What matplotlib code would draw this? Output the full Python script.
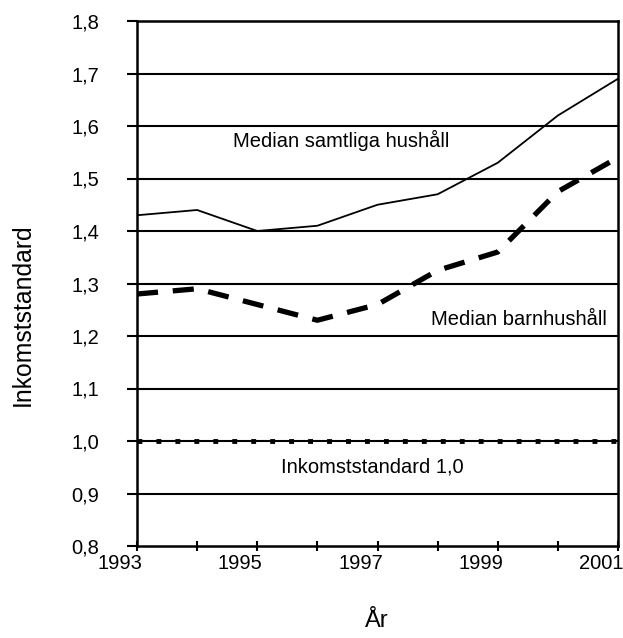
import matplotlib
matplotlib.use("Agg")
import matplotlib.pyplot as plt
import matplotlib.transforms as mtransforms

# --- Data ---
years = [1993, 1994, 1995, 1996, 1997, 1998, 1999, 2000, 2001]
median_samtliga = [1.43, 1.44, 1.40, 1.41, 1.45, 1.47, 1.53, 1.62, 1.69]
median_barn = [1.28, 1.29, 1.26, 1.23, 1.26, 1.325, 1.36, 1.475, 1.54]
standard = [1.0] * len(years)

yticks = [0.8, 0.9, 1.0, 1.1, 1.2, 1.3, 1.4, 1.5, 1.6, 1.7, 1.8]
ytick_labels = [f"{v:.1f}".replace(".", ",") for v in yticks]
xtick_labels = ["1993", "1995", "1997", "1999", "2001"]

plt.rcParams["font.family"] = ["Liberation Sans", "DejaVu Sans"]
fs = 14.5

fig = plt.figure(figsize=(6.23, 6.38), dpi=100)
ax = fig.add_axes([137 / 623, 1 - 546 / 638, 481 / 623, 525 / 638])

# gridlines
for v in yticks[1:-1]:
    ax.axhline(v, color="black", lw=1.5, zorder=1)

ax.plot(years, median_samtliga, color="black", lw=1.3, zorder=3)
ax.plot(years, median_barn, color="black", lw=3.8, dashes=(4, 2.8), zorder=3)
ax.plot(years, standard, color="black", lw=3.5, dashes=(1, 2.9), zorder=3)

ax.set_xlim(1993, 2001)
ax.set_ylim(0.8, 1.8)
ax.set_yticks(yticks)
ax.set_yticklabels(ytick_labels, fontsize=fs)
ax.set_xticks(years)
ax.set_xticklabels([str(y) if str(y) in xtick_labels else "" for y in years], fontsize=fs)
ax.tick_params(axis="y", direction="out", length=7, width=1.5, pad=20)
ax.tick_params(axis="x", direction="inout", length=7, width=1.5, pad=2)

# x labels sit a bit to the left of their ticks in the original
shift = mtransforms.ScaledTranslation(-17 / 100, 0, fig.dpi_scale_trans)
for lbl in ax.get_xticklabels():
    lbl.set_transform(lbl.get_transform() + shift)

for s in ax.spines.values():
    s.set_linewidth(1.8)
    s.set_color("black")

ax.text(1996.39, 1.572, "Median samtliga hushåll", fontsize=fs, ha="center", va="center")
ax.text(2000.82, 1.232, "Median barnhushåll", fontsize=fs, ha="right", va="center")
ax.text(1996.91, 0.951, "Inkomststandard 1,0", fontsize=fs, ha="center", va="center")

fig.text(23 / 623, 1 - 315 / 638, "Inkomststandard", fontsize=17.8, rotation=90,
         ha="center", va="center")
fig.text(377 / 623, 1 - 621 / 638, "År", fontsize=17, ha="center", va="center")

plt.savefig("out.png", dpi=100)
plt.close()
